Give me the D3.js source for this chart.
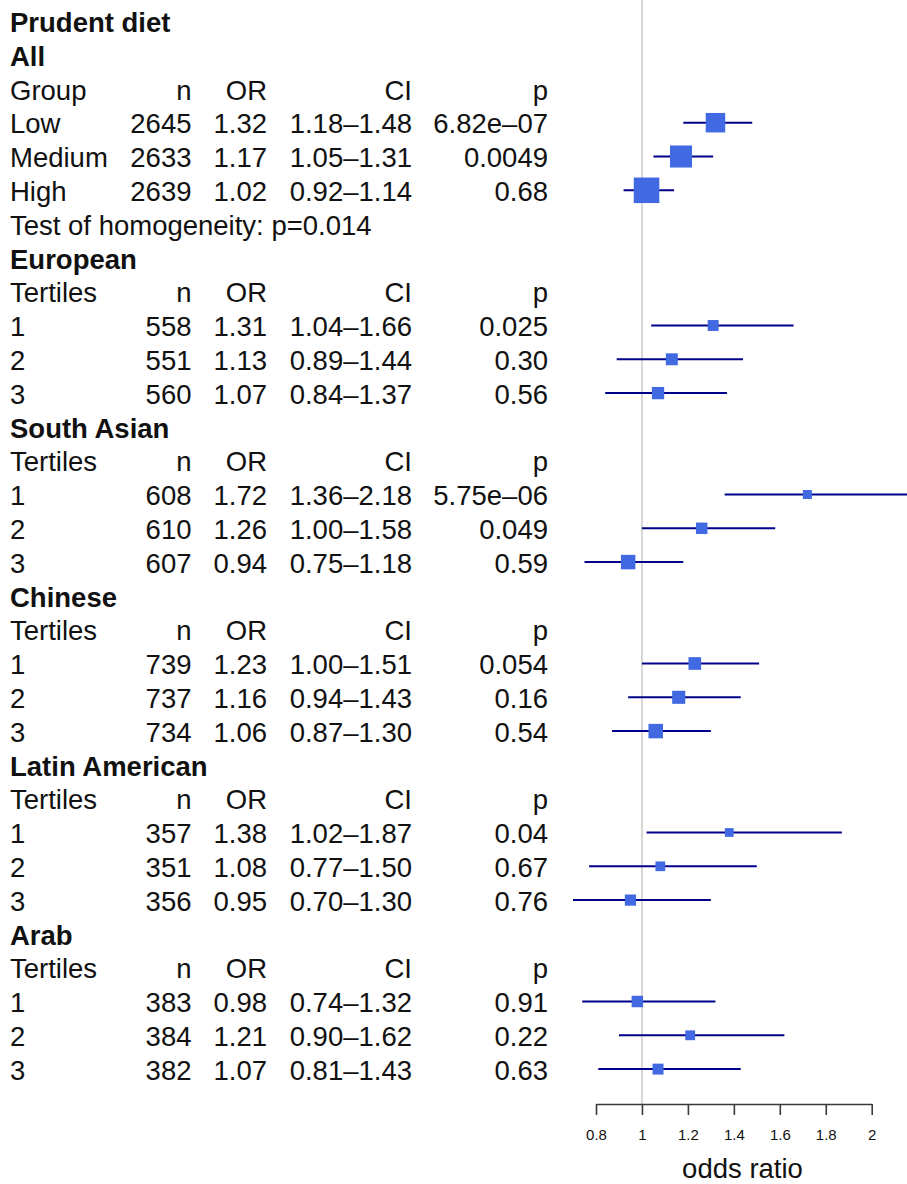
<!DOCTYPE html>
<html>
<head>
<meta charset="utf-8">
<script src="https://cdn.jsdelivr.net/npm/d3@7"></script>
<style>
  html, body { margin: 0; padding: 0; background: #fff; }
  svg { display: block; }
  text { font-family: "Liberation Sans", Arial, Helvetica, sans-serif; fill: #111; }
</style>
</head>
<body>
<script>
// Forest plot: prudent diet tertiles, overall and by ethnic group
const title = "Prudent diet";
const subgroupNames = ["All", "European", "South Asian", "Chinese", "Latin American", "Arab"];
const columnHeaders = ["n", "OR", "CI", "p"];
const firstColumnHeaders = ["Group", "Tertiles", "Tertiles", "Tertiles", "Tertiles", "Tertiles"];
const levelLabels = [
  ["Low", "Medium", "High"],
  ["1", "2", "3"], ["1", "2", "3"], ["1", "2", "3"], ["1", "2", "3"], ["1", "2", "3"]
];
const sampleSizes = [
  [2645, 2633, 2639], [558, 551, 560], [608, 610, 607],
  [739, 737, 734], [357, 351, 356], [383, 384, 382]
];
const oddsRatios = [
  [1.32, 1.17, 1.02], [1.31, 1.13, 1.07], [1.72, 1.26, 0.94],
  [1.23, 1.16, 1.06], [1.38, 1.08, 0.95], [0.98, 1.21, 1.07]
];
const ciLower = [
  [1.18, 1.05, 0.92], [1.04, 0.89, 0.84], [1.36, 1.00, 0.75],
  [1.00, 0.94, 0.87], [1.02, 0.77, 0.70], [0.74, 0.90, 0.81]
];
const ciUpper = [
  [1.48, 1.31, 1.14], [1.66, 1.44, 1.37], [2.18, 1.58, 1.18],
  [1.51, 1.43, 1.30], [1.87, 1.50, 1.30], [1.32, 1.62, 1.43]
];
const pValues = [
  ["6.82e\u201307", "0.0049", "0.68"], ["0.025", "0.30", "0.56"], ["5.75e\u201306", "0.049", "0.59"],
  ["0.054", "0.16", "0.54"], ["0.04", "0.67", "0.76"], ["0.91", "0.22", "0.63"]
];
const homogeneityNote = ["Test of homogeneity: p=0.014", null, null, null, null, null];
const axisTicks = [0.8, 1, 1.2, 1.4, 1.6, 1.8, 2];
const axisLabel = "odds ratio";

const W = 907, H = 1184;
const FONT = 27.5;

const svg = d3.select("body").append("svg")
  .attr("width", W).attr("height", H)
  .attr("viewBox", `0 0 ${W} ${H}`);

// Build the table rows in display order
const rows = [];
rows.push({ type: "title", text: title });
subgroupNames.forEach((g, gi) => {
  rows.push({ type: "heading", text: g });
  rows.push({ type: "colhead", first: firstColumnHeaders[gi] });
  levelLabels[gi].forEach((lab, li) => {
    rows.push({
      type: "data", label: lab,
      n: sampleSizes[gi][li], or: oddsRatios[gi][li],
      lo: ciLower[gi][li], hi: ciUpper[gi][li], p: pValues[gi][li]
    });
  });
  if (homogeneityNote[gi]) rows.push({ type: "note", text: homogeneityNote[gi] });
});
rows.forEach((r, i) => r.idx = i);

// Scales
const y = d3.scaleLinear().domain([0, rows.length - 1]).range([31.9, 31.9 + (rows.length - 1) * 33.8]);
const x = d3.scaleLinear().domain([0.8, 2]).range([596, 871.7]);
// Box size grows with precision (inverse CI width)
const boxSize = d3.scaleLinear().domain([0, 5]).range([2.9, 27.8]);

const colRight = { n: 191.5, or: 267, ci: 412, p: 548 };
const fmt2 = d3.format(".2f");

// Reference line at OR = 1
const axisY = 1104;
svg.append("line")
  .attr("x1", x(1)).attr("x2", x(1))
  .attr("y1", 0).attr("y2", axisY)
  .attr("stroke", "#d6d6d6").attr("stroke-width", 2);

// Text table
const tbl = svg.append("g").style("font-size", FONT + "px");
rows.forEach(r => {
  const by = y(r.idx);
  if (r.type === "title" || r.type === "heading") {
    tbl.append("text").attr("x", 10).attr("y", by).style("font-weight", "bold").text(r.text);
  } else if (r.type === "note") {
    tbl.append("text").attr("x", 10).attr("y", by).text(r.text);
  } else if (r.type === "colhead") {
    tbl.append("text").attr("x", 10).attr("y", by).text(r.first);
    [["n", columnHeaders[0]], ["or", columnHeaders[1]], ["ci", columnHeaders[2]], ["p", columnHeaders[3]]]
      .forEach(([k, t]) => tbl.append("text").attr("x", colRight[k]).attr("y", by)
        .attr("text-anchor", "end").text(t));
  } else {
    tbl.append("text").attr("x", 10).attr("y", by).text(r.label);
    tbl.append("text").attr("x", colRight.n).attr("y", by).attr("text-anchor", "end").text(r.n);
    tbl.append("text").attr("x", colRight.or).attr("y", by).attr("text-anchor", "end").text(fmt2(r.or));
    tbl.append("text").attr("x", colRight.ci).attr("y", by).attr("text-anchor", "end")
      .text(fmt2(r.lo) + "\u2013" + fmt2(r.hi));
    tbl.append("text").attr("x", colRight.p).attr("y", by).attr("text-anchor", "end").text(r.p);
  }
});

// Confidence intervals and point estimates
const dataRows = rows.filter(r => r.type === "data");
const cy = r => y(r.idx) - 10.6;
const marks = svg.append("g");
marks.selectAll("line.ci").data(dataRows).join("line")
  .attr("class", "ci")
  .attr("x1", d => x(d.lo)).attr("x2", d => x(d.hi))
  .attr("y1", cy).attr("y2", cy)
  .attr("stroke", "#00008b").attr("stroke-width", 2);
marks.selectAll("rect.est").data(dataRows).join("rect")
  .attr("class", "est")
  .attr("x", d => x(d.or) - boxSize(1 / (d.hi - d.lo)) / 2)
  .attr("y", d => cy(d) - boxSize(1 / (d.hi - d.lo)) / 2)
  .attr("width", d => boxSize(1 / (d.hi - d.lo)))
  .attr("height", d => boxSize(1 / (d.hi - d.lo)))
  .attr("fill", "#4169e1");

// Axis
const axis = d3.axisBottom(x)
  .tickValues(axisTicks)
  .tickFormat(d => String(+d.toFixed(1)))
  .tickSize(11).tickSizeOuter(0).tickPadding(14);
const ag = svg.append("g").attr("transform", `translate(0,${axisY})`).call(axis);
ag.select(".domain").attr("stroke", "#3a3a3a").attr("stroke-width", 1.6);
ag.selectAll(".tick line").attr("stroke", "#3a3a3a").attr("stroke-width", 1.6);
ag.selectAll(".tick text")
  .style("font-family", "'Liberation Sans', Arial, sans-serif")
  .style("font-size", "15px").attr("fill", "#222");

svg.append("text")
  .attr("x", 742.5).attr("y", 1177.5)
  .attr("text-anchor", "middle")
  .style("font-size", FONT + "px")
  .text(axisLabel);
</script>
</body>
</html>
